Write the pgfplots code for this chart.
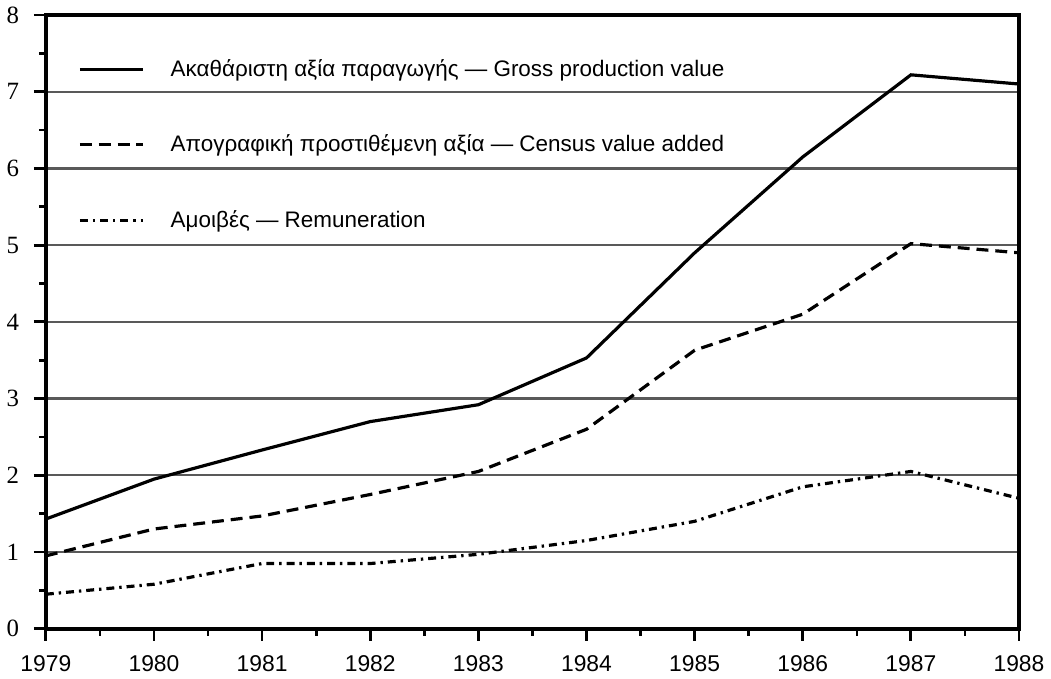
\documentclass[border=0pt]{standalone}
\usepackage{fontspec}
\setmainfont{Liberation Sans}
\newfontfamily\serifnum{Liberation Serif}
\usepackage{pgfplots}
\pgfplotsset{compat=1.18}
\begin{document}
\begin{tikzpicture}
\begin{axis}[
  scale only axis,
  width=490pt, height=309pt,
  xmin=1979, xmax=1988, ymin=0, ymax=8,
  xtick={1979,...,1988},
  xticklabels={1979,1980,1981,1982,1983,1984,1985,1986,1987,1988},
  minor xtick={1979.5,1980.5,1981.5,1982.5,1983.5,1984.5,1985.5,1986.5,1987.5},
  ytick={0,...,8},
  minor ytick={0.5,1.5,2.5,3.5,4.5,5.5,6.5,7.5},
  xtick pos=bottom, ytick pos=left,
  tick align=outside,
  major tick length=6pt, minor tick length=3.5pt,
  every tick/.style={black, line width=1.4pt},
  axis line style={line width=1.8pt},
  ymajorgrids,
  major grid style={black!65, line width=1.2pt},
  x tick label style={font=\fontsize{11.5}{13}\selectfont, yshift=-4pt},
  y tick label style={font=\serifnum\fontsize{12.5}{14}\selectfont, xshift=-4pt},
  /pgf/number format/assume math mode=true,
  legend style={draw=none, fill=none, at={(axis description cs:0.033,0.935)}, anchor=north west,
    row sep=24pt, font=\fontsize{11.3}{13}\selectfont, inner sep=0pt},
  legend cell align=left,
  legend image code/.code={\draw[#1, line width=1.5pt] (0pt,0pt) -- (32pt,0pt);},
]
\addplot[black, no marks, line width=1.6pt] coordinates {(1979,1.43) (1980,1.95) (1981,2.33) (1982,2.70) (1983,2.92) (1984,3.53) (1985,4.90) (1986,6.15) (1987,7.22) (1988,7.10)};
\addlegendentry{\hspace{11pt}Ακαθάριστη αξία παραγωγής — Gross production value}
\addplot[black, no marks, line width=1.6pt, dash pattern=on 6pt off 3.5pt] coordinates {(1979,0.95) (1980,1.30) (1981,1.47) (1982,1.75) (1983,2.05) (1984,2.60) (1985,3.63) (1986,4.10) (1987,5.02) (1988,4.90)};
\addlegendentry{\hspace{11pt}Απογραφική προστιθέμενη αξία — Census value added}
\addplot[black, no marks, line width=1.6pt, dash pattern=on 4pt off 2.5pt on 1.2pt off 2.5pt] coordinates {(1979,0.45) (1980,0.58) (1981,0.85) (1982,0.85) (1983,0.97) (1984,1.15) (1985,1.40) (1986,1.85) (1987,2.05) (1988,1.70)};
\addlegendentry{\hspace{11pt}Αμοιβές — Remuneration}
\end{axis}
\end{tikzpicture}
\end{document}
